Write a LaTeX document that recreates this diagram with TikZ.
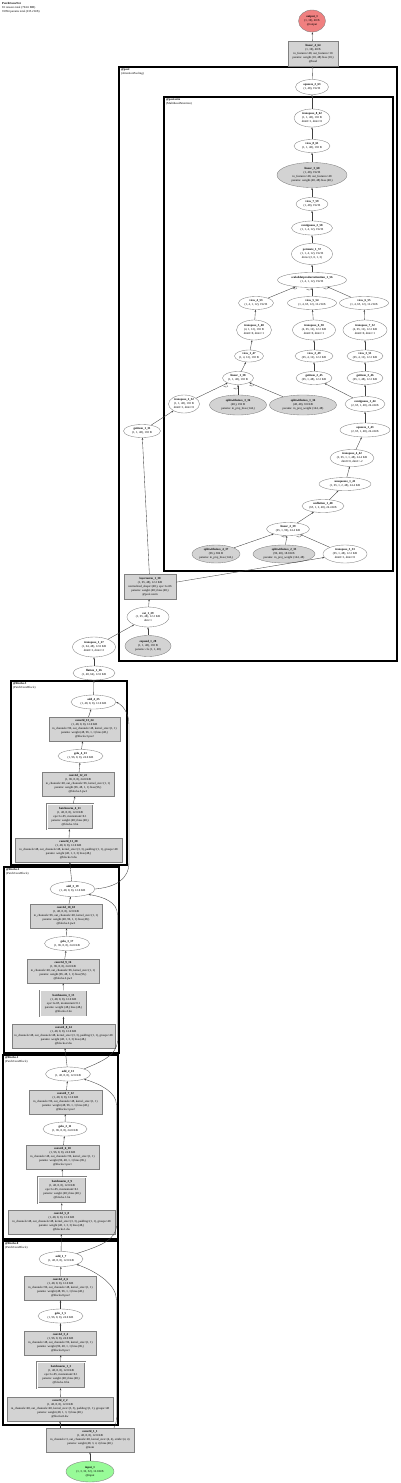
\documentclass[tikz,border=0pt]{standalone}
\usepackage{fontspec}
\setmainfont{Liberation Serif}
\usetikzlibrary{shapes.geometric,arrows.meta}
\definecolor{boxgray}{HTML}{D3D3D3}
\definecolor{outred}{HTML}{F08080}
\definecolor{ingreen}{HTML}{98FB98}
\newcommand{\tf}{\fontsize{3}{3.9}\selectfont}
\newcommand{\lf}{\fontsize{2.3}{2.6}\selectfont}
\tikzset{
  base/.style={font=\tf, align=center, line width=0.35pt},
  sz/.style 2 args={minimum width=#1pt, minimum height=#2pt},
  ell/.style={base, ellipse, draw=black!50, fill=white, inner sep=0pt},
  gell/.style={ell, fill=boxgray},
  pbox/.style={base, rectangle, draw=black!50, fill=boxgray, inner sep=0.4pt},
  bnbox/.style={pbox, double=white, double distance=0.7pt},
  clus/.style={draw=black, line width=1.1pt},
  clab/.style={base, anchor=north west, align=left, inner sep=0pt},
  arr/.style={-{Stealth[length=2.2pt,width=1.6pt]}, line width=0.35pt, draw=black!75},
  elab/.style={font=\lf, inner sep=0pt}
}
\begin{document}
\begin{tikzpicture}[x=1pt,y=-1pt]
\fill[white] (0,0) rectangle (400,1483);
\useasboundingbox (0,0) rectangle (400,1483);

% header
\node[clab] (hdr) at (2,2) {\textbf{PatchConvNet}\\81 tensors total (794.6 MB)\\91994 params total (235.2 KB)};

% clusters
\draw[clus] (119,67) rectangle (397,661);
\node[clab] (lpool) at (121,68.5) {\textbf{@pool}\\(AttentionPooling)};
\draw[clus] (164,97) rectangle (393,571);
\node[clab] (lattn) at (166,98.5) {\textbf{@pool.attn}\\(MultiheadAttention)};
\draw[clus] (11,681) rectangle (127,865);
\node[clab] (lb3) at (13,682.5) {\textbf{@blocks.3}\\(PatchConvBlock)};
\draw[clus] (4,867) rectangle (119,1053);
\node[clab] (lb2) at (6,868.5) {\textbf{@blocks.2}\\(PatchConvBlock)};
\draw[clus] (3,1055) rectangle (118,1239);
\node[clab] (lb1) at (5,1056.5) {\textbf{@blocks.1}\\(PatchConvBlock)};
\draw[clus] (3,1241) rectangle (118,1425);
\node[clab] (lb0) at (5,1242.5) {\textbf{@blocks.0}\\(PatchConvBlock)};

% top
\node[ell, fill=outred, sz={27}{22}] (out) at (312,21) {\textbf{output\_1}\\(1, 10), 40 B\\@output};
\node[pbox, sz={50}{25}] (lin4) at (313,53.5) {\textbf{linear\_4\_64}\\(1, 10), 40 B\\in\_features=48, out\_features=10\\params: weight (10, 48) bias (10,)\\@head};
\node[ell, sz={33}{15}] (sq2) at (312,87) {\textbf{squeeze\_2\_63}\\(1, 48), 192 B};

% attention
\node[ell, sz={36}{18}] (tr8) at (312,118) {\textbf{transpose\_8\_62}\\(1, 1, 48), 192 B\\dim0=1, dim1=0};
\node[ell, sz={36}{13}] (v8) at (312,146) {\textbf{view\_8\_61}\\(1, 1, 48), 192 B};
\node[gell, sz={70}{25}] (lin3) at (312,175) {\textbf{linear\_3\_60}\\(1, 48), 192 B\\in\_features=48, out\_features=48\\params: weight (48, 48) bias (48,)};
\node[ell, sz={32}{13}] (v7) at (312,204) {\textbf{view\_7\_59}\\(1, 48), 192 B};
\node[ell, sz={41}{14}] (cont2) at (312,228) {\textbf{contiguous\_2\_58}\\(1, 1, 4, 12), 192 B};
\node[ell, sz={41}{21}] (perm) at (312,254) {\textbf{permute\_1\_57}\\(1, 1, 4, 12), 192 B\\dims=(2, 0, 1, 3)};
\node[ell, sz={69}{15}] (sdpa) at (312,280) {\textbf{scaleddotproductattention\_1\_56}\\(1, 4, 1, 12), 192 B};
\node[ell, sz={35}{13}] (v4) at (256,303) {\textbf{view\_4\_53}\\(1, 4, 1, 12), 192 B};
\node[ell, sz={49}{13}] (v5) at (312,303) {\textbf{view\_5\_54}\\(1, 4, 65, 12), 12.2 KB};
\node[ell, sz={49}{13}] (v6) at (364,303) {\textbf{view\_6\_55}\\(1, 4, 65, 12), 12.2 KB};
\node[ell, sz={35}{20}] (tr5) at (254,330) {\textbf{transpose\_5\_48}\\(4, 1, 12), 192 B\\dim0=0, dim1=1};
\node[ell, sz={43}{20}] (tr6) at (314,330) {\textbf{transpose\_6\_50}\\(4, 65, 12), 12.2 KB\\dim0=0, dim1=1};
\node[ell, sz={44}{20}] (tr7) at (365,330) {\textbf{transpose\_7\_52}\\(4, 65, 12), 12.2 KB\\dim0=0, dim1=1};
\node[ell, sz={29}{12}] (v1) at (249,356) {\textbf{view\_1\_47}\\(1, 4, 12), 192 B};
\node[ell, sz={38}{12}] (v2) at (314,356) {\textbf{view\_2\_49}\\(65, 4, 12), 12.2 KB};
\node[ell, sz={36}{12}] (v3) at (365,356) {\textbf{view\_3\_51}\\(65, 4, 12), 12.2 KB};
\node[ell, sz={31}{13}] (lin1) at (238,378) {\textbf{linear\_1\_38}\\(1, 1, 48), 192 B};
\node[ell, sz={36}{13}] (g2) at (314,378) {\textbf{getitem\_2\_45}\\(65, 1, 48), 12.2 KB};
\node[ell, sz={36}{13}] (g3) at (365,378) {\textbf{getitem\_3\_46}\\(65, 1, 48), 12.2 KB};
\node[ell, sz={31}{18}] (tr2) at (184,404) {\textbf{transpose\_2\_32}\\(1, 1, 48), 192 B\\dim0=1, dim1=0};
\node[gell, sz={57}{20}] (sp3) at (238,405) {\textbf{splitwithsizes\_3\_36}\\(48,), 192 B\\params: in\_proj\_bias (144,)};
\node[gell, sz={67}{20}] (sp1) at (303,405) {\textbf{splitwithsizes\_1\_34}\\(48, 48), 9.0 KB\\params: in\_proj\_weight (144, 48)};
\node[ell, sz={40}{15}] (cont1) at (365,404) {\textbf{contiguous\_1\_44}\\(2, 65, 1, 48), 24.4 KB};
\node[ell, sz={37}{13}] (g1) at (142,431) {\textbf{getitem\_1\_31}\\(1, 1, 48), 192 B};
\node[ell, sz={50}{14}] (sqz1) at (365,430) {\textbf{squeeze\_1\_43}\\(2, 65, 1, 48), 24.4 KB};
\node[ell, sz={44}{17}] (tr4) at (352,458) {\textbf{transpose\_4\_42}\\(2, 65, 1, 1, 48), 24.4 KB\\dim0=0, dim1=-2};
\node[ell, sz={52}{13}] (uns1) at (345,484) {\textbf{unsqueeze\_1\_41}\\(1, 65, 1, 2, 48), 24.4 KB};
\node[ell, sz={42}{13}] (unf1) at (323,506) {\textbf{unflatten\_1\_40}\\(65, 1, 2, 48), 24.4 KB};
\node[ell, sz={43}{13}] (lin2) at (288,529) {\textbf{linear\_2\_39}\\(65, 1, 96), 24.4 KB};
\node[gell, sz={48}{18}] (sp4) at (216,554) {\textbf{splitwithsizes\_4\_37}\\(96,), 384 B\\params: in\_proj\_bias (144,)};
\node[gell, sz={62}{18}] (sp2) at (284,554) {\textbf{splitwithsizes\_2\_35}\\(96, 48), 18.0 KB\\params: in\_proj\_weight (144, 48)};
\node[ell, sz={44}{18}] (tr3) at (345,554) {\textbf{transpose\_3\_33}\\(65, 1, 48), 12.2 KB\\dim0=1, dim1=0};

% pooling input part
\node[pbox, sz={52}{25}] (ln) at (150,586.5) {\textbf{layernorm\_1\_30}\\(1, 65, 48), 12.2 KB\\normalized\_shape=(48,), eps=1e-06\\params: weight (48,) bias (48,)\\@pool.norm};
\node[ell, sz={42}{20}] (cat) at (148,617) {\textbf{cat\_1\_29}\\(1, 65, 48), 12.2 KB\\dim=1};
\node[gell, sz={46}{21}] (exp) at (148,646) {\textbf{expand\_1\_28}\\(1, 1, 48), 192 B\\params: cls (1, 1, 48)};
\node[ell, sz={43}{20}] (tr1) at (94,647) {\textbf{transpose\_1\_27}\\(1, 64, 48), 12.0 KB\\dim0=1, dim1=2};
\node[ell, sz={42}{14}] (flat) at (94,673) {\textbf{flatten\_1\_26}\\(1, 48, 64), 12.0 KB};

% blocks.3
\node[ell, sz={45}{14}] (add425) at (93.5,702) {\textbf{add\_4\_25}\\(1, 48, 8, 8), 12.0 KB};
\node[pbox, sz={71}{24}] (c13) at (84.5,729) {\textbf{conv2d\_13\_24}\\(1, 48, 8, 8), 12.0 KB\\in\_channels=96, out\_channels=48, kernel\_size=(1, 1)\\params: weight (48, 96, 1, 1) bias (48,)\\@blocks.3.pw2};
\node[ell, sz={45}{13}] (gelu4) at (80.5,756) {\textbf{gelu\_4\_23}\\(1, 96, 8, 8), 24.0 KB};
\node[pbox, sz={72}{24}] (c12) at (78,784) {\textbf{conv2d\_12\_22}\\(1, 96, 8, 8), 24.0 KB\\in\_channels=48, out\_channels=96, kernel\_size=(1, 1)\\params: weight (96, 48, 1, 1) bias (96,)\\@blocks.3.pw1};
\node[bnbox, sz={46}{25}] (bn4) at (70,816.5) {\textbf{batchnorm\_4\_21}\\(1, 48, 8, 8), 12.0 KB\\eps=1e-05, momentum=0.1\\params: weight (48,) bias (48,)\\@blocks.3.bn};
\node[pbox, sz={107}{24}] (c11) at (68.5,850) {\textbf{conv2d\_11\_20}\\(1, 48, 8, 8), 12.0 KB\\in\_channels=48, out\_channels=48, kernel\_size=(3, 3), padding=(1, 1), groups=48\\params: weight (48, 1, 3, 3) bias (48,)\\@blocks.3.dw};

% blocks.2
\node[ell, sz={45}{15}] (add319) at (72.5,889) {\textbf{add\_3\_19}\\(1, 48, 8, 8), 12.0 KB};
\node[pbox, sz={72}{24}] (c10) at (66,916) {\textbf{conv2d\_10\_18}\\(1, 48, 8, 8), 12.0 KB\\in\_channels=96, out\_channels=48, kernel\_size=(1, 1)\\params: weight (48, 96, 1, 1) bias (48,)\\@blocks.2.pw2};
\node[ell, sz={45}{14}] (gelu3) at (67,943.5) {\textbf{gelu\_3\_17}\\(1, 96, 8, 8), 24.0 KB};
\node[pbox, sz={72}{24}] (c9) at (63,971) {\textbf{conv2d\_9\_16}\\(1, 96, 8, 8), 24.0 KB\\in\_channels=48, out\_channels=96, kernel\_size=(1, 1)\\params: weight (96, 48, 1, 1) bias (96,)\\@blocks.2.pw1};
\node[bnbox, sz={47}{26}] (bn3) at (63.5,1003.5) {\textbf{batchnorm\_3\_15}\\(1, 48, 8, 8), 12.0 KB\\eps=1e-05, momentum=0.1\\params: weight (48,) bias (48,)\\@blocks.2.bn};
\node[pbox, sz={103}{24}] (c8) at (63.5,1036) {\textbf{conv2d\_8\_14}\\(1, 48, 8, 8), 12.0 KB\\in\_channels=48, out\_channels=48, kernel\_size=(3, 3), padding=(1, 1), groups=48\\params: weight (48, 1, 3, 3) bias (48,)\\@blocks.2.dw};

% blocks.1
\node[ell, sz={45}{14}] (add213) at (68,1074) {\textbf{add\_2\_13}\\(1, 48, 8, 8), 12.0 KB};
\node[pbox, sz={73}{24}] (c7) at (65.5,1102) {\textbf{conv2d\_7\_12}\\(1, 48, 8, 8), 12.0 KB\\in\_channels=96, out\_channels=48, kernel\_size=(1, 1)\\params: weight (48, 96, 1, 1) bias (48,)\\@blocks.1.pw2};
\node[ell, sz={44}{14}] (gelu2) at (65,1129) {\textbf{gelu\_2\_11}\\(1, 96, 8, 8), 24.0 KB};
\node[pbox, sz={73}{24}] (c6) at (62.5,1157) {\textbf{conv2d\_6\_10}\\(1, 96, 8, 8), 24.0 KB\\in\_channels=48, out\_channels=96, kernel\_size=(1, 1)\\params: weight (96, 48, 1, 1) bias (96,)\\@blocks.1.pw1};
\node[bnbox, sz={48}{26}] (bn2) at (62,1190) {\textbf{batchnorm\_2\_9}\\(1, 48, 8, 8), 12.0 KB\\eps=1e-05, momentum=0.1\\params: weight (48,) bias (48,)\\@blocks.1.bn};
\node[pbox, sz={107}{24}] (c5) at (61.5,1222) {\textbf{conv2d\_5\_8}\\(1, 48, 8, 8), 12.0 KB\\in\_channels=48, out\_channels=48, kernel\_size=(3, 3), padding=(1, 1), groups=48\\params: weight (48, 1, 3, 3) bias (48,)\\@blocks.1.dw};

% blocks.0
\node[ell, sz={44}{15}] (add17) at (61,1259) {\textbf{add\_1\_7}\\(1, 48, 8, 8), 12.0 KB};
\node[pbox, sz={72}{24}] (c4) at (60.5,1288) {\textbf{conv2d\_4\_6}\\(1, 48, 8, 8), 12.0 KB\\in\_channels=96, out\_channels=48, kernel\_size=(1, 1)\\params: weight (48, 96, 1, 1) bias (48,)\\@blocks.0.pw2};
\node[ell, sz={45}{14}] (gelu1) at (60.5,1316) {\textbf{gelu\_1\_5}\\(1, 96, 8, 8), 24.0 KB};
\node[pbox, sz={72}{24}] (c3) at (60.5,1343) {\textbf{conv2d\_3\_4}\\(1, 96, 8, 8), 24.0 KB\\in\_channels=48, out\_channels=96, kernel\_size=(1, 1)\\params: weight (96, 48, 1, 1) bias (96,)\\@blocks.0.pw1};
\node[bnbox, sz={48}{26}] (bn1) at (61,1375) {\textbf{batchnorm\_1\_3}\\(1, 48, 8, 8), 12.0 KB\\eps=1e-05, momentum=0.1\\params: weight (48,) bias (48,)\\@blocks.0.bn};
\node[pbox, sz={106}{24}] (c2) at (60,1409) {\textbf{conv2d\_2\_2}\\(1, 48, 8, 8), 12.0 KB\\in\_channels=48, out\_channels=48, kernel\_size=(3, 3), padding=(1, 1), groups=48\\params: weight (48, 1, 3, 3) bias (48,)\\@blocks.0.dw};

% stem and input
\node[pbox, sz={88}{24}] (c1) at (90,1440) {\textbf{conv2d\_1\_1}\\(1, 48, 8, 8), 12.0 KB\\in\_channels=3, out\_channels=48, kernel\_size=(4, 4), stride=(4, 4)\\params: weight (48, 3, 4, 4) bias (48,)\\@stem};
\node[ell, fill=ingreen, sz={48}{21}] (inp) at (90,1471.5) {\textbf{input\_1}\\(1, 3, 32, 32), 12.0 KB\\@input};

% edges: stem and blocks
\draw[arr] (inp) -- (c1);
\draw[arr] (c1.north -| c2.south) -- (c2.south);
\draw[arr] (c2) -- (bn1);
\draw[arr] (bn1) -- (c3);
\draw[arr] (c3) -- (gelu1);
\draw[arr] (gelu1) -- (c4);
\draw[arr] (c4) -- (add17);
\draw[arr] ([xshift=24pt]c1.north) .. controls (116.5,1424) and (116.5,1420) .. (116.5,1410) -- (116.5,1300) .. controls (116.5,1285) and (98,1272) .. (add17.south east);
\draw[arr] (add17) -- (c5);
\draw[arr] (c5) -- (bn2);
\draw[arr] (bn2) -- (c6);
\draw[arr] (c6) -- (gelu2);
\draw[arr] (gelu2) -- (c7);
\draw[arr] (c7) -- (add213);
\draw[arr] (add17.north east) .. controls (100,1246) and (116.5,1240) .. (116.5,1225) -- (116.5,1105) .. controls (116.5,1092) and (100,1084) .. (add213.south east);
\draw[arr] (add213) -- (c8);
\draw[arr] (c8) -- (bn3);
\draw[arr] (bn3) -- (c9);
\draw[arr] (c9) -- (gelu3);
\draw[arr] (gelu3) -- (c10);
\draw[arr] (c10) -- (add319);
\draw[arr] (add213.north east) .. controls (100,1062) and (117.5,1056) .. (117.5,1040) -- (117.5,915) .. controls (117.5,902) and (104,897) .. (add319.south east);
\draw[arr] (add319) -- (c11);
\draw[arr] (c11) -- (bn4);
\draw[arr] (bn4) -- (c12);
\draw[arr] (c12) -- (gelu4);
\draw[arr] (gelu4) -- (c13);
\draw[arr] (c13) -- (add425);
\draw[arr] (add319.east) .. controls (115,887) and (129,880) .. (129,862) -- (129,725) .. controls (129,712) and (122,705) .. (add425.east);

% edges: pooling
\draw[arr] (add425) -- (flat);
\draw[arr] (flat) -- (tr1);
\draw[arr] (tr1) -- (cat);
\draw[arr] (exp) -- (cat);
\draw[arr] (cat) -- (ln);
\draw[arr] (ln) -- (g1);
\draw[arr] (ln) -- (tr3);
\draw[arr] (g1) -- (tr2);
\draw[arr] (tr2) -- (lin1);
\draw[arr] (sp3) -- (lin1);
\draw[arr] (sp1) -- (lin1);
\draw[arr] (lin1) -- (v1);
\draw[arr] (v1) -- (tr5);
\draw[arr] (tr5) -- (v4);
\draw[arr] (v4) -- (sdpa);
\draw[arr] (tr3) -- (lin2);
\draw[arr] (sp4) -- (lin2);
\draw[arr] (sp2) -- (lin2);
\draw[arr] (lin2) -- (unf1);
\draw[arr] (unf1) -- (uns1);
\draw[arr] (uns1) -- (tr4);
\draw[arr] (tr4) -- (sqz1);
\draw[arr] (sqz1) -- (cont1);
\draw[arr] (cont1) -- (g2);
\draw[arr] (cont1) -- (g3);
\draw[arr] (g2) -- (v2);
\draw[arr] (v2) -- (tr6);
\draw[arr] (tr6) -- (v5);
\draw[arr] (v5) -- (sdpa);
\draw[arr] (g3) -- (v3);
\draw[arr] (v3) -- (tr7);
\draw[arr] (tr7) -- (v6);
\draw[arr] (v6) -- (sdpa);
\draw[arr] (sdpa) -- (perm);
\draw[arr] (perm) -- (cont2);
\draw[arr] (cont2) -- (v7);
\draw[arr] (v7) -- (lin3);
\draw[arr] (lin3) -- (v8);
\draw[arr] (v8) -- (tr8);
\draw[arr] (tr8) -- (sq2);
\draw[arr] (sq2) -- (lin4);
\draw[arr] (lin4) -- (out);

% edge labels
\node[elab] (ls0) at (295,288.5) {arg 0};
\node[elab] (ls1) at (309,289.5) {arg 1};
\node[elab] (ls2) at (326,288.5) {arg 2};
\node[elab] (lq0) at (226,386.5) {arg 0};
\node[elab] (lq2) at (236,388.5) {arg 2};
\node[elab] (lq1) at (252,386) {arg 1};
\node[elab] (lk1) at (284,537) {arg 1};
\node[elab] (lk0) at (299,537) {arg 0};
\end{tikzpicture}
\end{document}
